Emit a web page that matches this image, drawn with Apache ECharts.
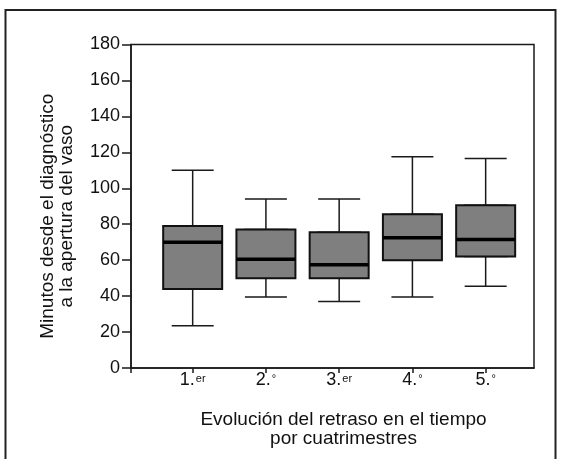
<!DOCTYPE html>
<html>
<head>
<meta charset="utf-8">
<title>Evolución del retraso</title>
<script src="https://cdn.jsdelivr.net/npm/echarts@6/dist/echarts.min.js"></script>
<style>
  html, body { margin: 0; padding: 0; background: #fff; }
  #chart { width: 561px; height: 459px; }
</style>
</head>
<body>
<div id="chart"></div>
<script>
// cuatrimestres
var categories = ['1.', '2.', '3.', '4.', '5.'];
var suffixes = ['er', '°', 'er', '°', '°'];
var positions = [1, 2, 3, 4, 5];
// minutos (min, Q1, mediana, Q3, max)
var minVals = [23.5, 39.5, 37, 39.5, 45.5];
var q1Vals = [44, 50, 50, 60, 62];
var medianVals = [70, 60.5, 57.5, 72.5, 71.5];
var q3Vals = [79, 77, 75.5, 85.5, 90.5];
var maxVals = [110, 94, 94, 117.5, 116.5];
var yTicks = [0, 20, 40, 60, 80, 100, 120, 140, 160, 180];

var font = 'Liberation Sans, Arial, Helvetica, sans-serif';
var ink = '#1a1a1a';

// datos para cada capa del boxplot
var whiskerData = positions.map(function (p, i) {
  return [p, minVals[i], q1Vals[i], medianVals[i], q3Vals[i], maxVals[i]];
});
var boxData = positions.map(function (p, i) {
  return [p, q1Vals[i], q1Vals[i], medianVals[i], q3Vals[i], q3Vals[i]];
});
var medianData = positions.map(function (p, i) {
  var m = medianVals[i];
  return [p, m, m, m, m, m];
});

function xAxisDef(visible) {
  return {
    type: 'value',
    min: 0.158,
    max: 5.66,
    show: visible,
    splitLine: { show: false },
    axisLine: { show: visible, lineStyle: { color: ink, width: 1.5 } },
    axisTick: {
      show: visible,
      length: 5,
      customValues: [0.158].concat(positions),
      lineStyle: { color: ink, width: 1.5 }
    },
    axisLabel: {
      show: visible,
      margin: 3,
      fontSize: 18,
      fontFamily: font,
      color: '#111',
      customValues: positions,
      formatter: function (v) {
        var i = positions.indexOf(v);
        return '{n|' + categories[i] + '}{s|' + suffixes[i] + '}';
      },
      rich: {
        n: { fontSize: 18, fontFamily: font, color: '#111', lineHeight: 19 },
        s: { fontSize: 11, fontFamily: font, color: '#111', padding: [0, 0, 3, 1] }
      }
    }
  };
}

var xMain = xAxisDef(true);
xMain.name = 'Evolución del retraso en el tiempo\npor cuatrimestres';
xMain.nameLocation = 'middle';
xMain.nameGap = 42;
xMain.nameTextStyle = {
  fontSize: 19, fontFamily: font, color: '#111', lineHeight: 19,
  padding: [0, 0, 0, 22]
};

var chart = echarts.init(document.getElementById('chart'));
chart.setOption({
  animation: false,
  backgroundColor: '#fff',
  graphic: [{
    type: 'rect',
    shape: { x: 5.5, y: 10, width: 550, height: 480 },
    style: { fill: 'none', stroke: '#222', lineWidth: 2 },
    silent: true
  }],
  grid: {
    left: 131, right: 27, top: 44.5, bottom: 91,
    show: true, borderColor: ink, borderWidth: 1.5, backgroundColor: 'transparent'
  },
  xAxis: [xMain, xAxisDef(false), xAxisDef(false)],
  yAxis: {
    type: 'value',
    min: 0,
    max: 180,
    interval: 20,
    name: 'Minutos desde el diagnóstico\na la apertura del vaso',
    nameLocation: 'middle',
    nameGap: 55,
    nameTextStyle: {
      fontSize: 19, fontFamily: font, color: '#111', lineHeight: 19,
      padding: [0, 20, 0, 0]
    },
    splitLine: { show: false },
    axisLine: { show: true, lineStyle: { color: ink, width: 1.5 } },
    axisTick: { show: true, length: 9, lineStyle: { color: ink, width: 1.5 } },
    axisLabel: {
      margin: 11, fontSize: 18, fontFamily: font, color: '#111',
      formatter: function (v) { return yTicks.indexOf(v) >= 0 ? String(v) : ''; }
    }
  },
  series: [
    {
      type: 'boxplot',
      xAxisIndex: 0,
      data: whiskerData,
      boxWidth: [42, 42],
      itemStyle: { color: '#7f7f7f', borderColor: ink, borderWidth: 1.5 },
      emphasis: { disabled: true },
      silent: true
    },
    {
      type: 'boxplot',
      xAxisIndex: 1,
      data: boxData,
      boxWidth: [59, 59],
      itemStyle: { color: '#7f7f7f', borderColor: '#111', borderWidth: 2 },
      emphasis: { disabled: true },
      silent: true
    },
    {
      type: 'boxplot',
      xAxisIndex: 2,
      data: medianData,
      boxWidth: [59, 59],
      itemStyle: { color: '#000', borderColor: '#000', borderWidth: 3.5 },
      emphasis: { disabled: true },
      silent: true
    }
  ]
});
</script>
</body>
</html>
